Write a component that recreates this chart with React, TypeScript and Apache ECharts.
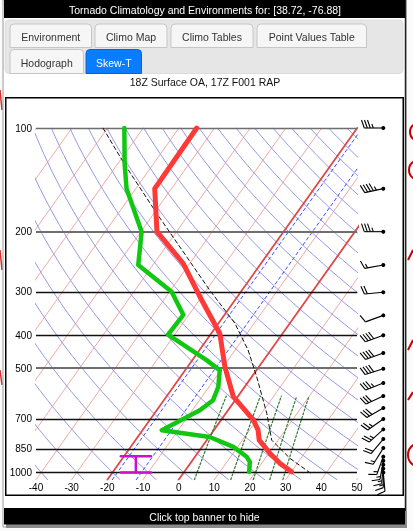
import React, { useEffect, useRef } from "react";
import * as echarts from "echarts";

// ---------- data (pressure hPa, temperature °C) ----------
const tempP = [100, 150, 200, 247, 309, 395, 494, 603, 705, 754, 806, 881, 942, 996];
const tempC = [-65, -64.7, -55.5, -41.9, -30.5, -17.6, -9.5, -1.2, 9.1, 12.4, 14.7, 20.4, 25.2, 30.1];

const dewP = [100, 127, 150, 200, 250, 299, 349, 398, 472, 505, 564, 617, 660, 754, 789, 843, 901, 932, 996];
const dewC = [-85.3, -78.1, -72.6, -59.8, -54.1, -39.4, -31.5, -31.9, -16.0, -10.3, -7.4, -6.2, -7.9, -14.6, 0.2, 8.8, 14.5, 16.4, 18.2];

const parcelP = [100, 127, 177, 296, 369, 442, 528, 674, 806, 911, 1003];
const parcelC = [-91.3, -78.2, -59.2, -29.0, -15.4, -6.3, 1.4, 11.5, 18.2, 27.0, 35.5];

const windP = [100, 150, 200, 250, 300, 350, 400, 450, 500, 550, 600, 650, 700, 750, 800, 850, 900, 925, 950, 975, 1000];
const windDir = [270, 258, 270, 260, 265, 250, 250, 250, 252, 248, 245, 240, 235, 228, 220, 212, 200, 190, 185, 180, 175];
const windKt = [35, 45, 35, 15, 20, 10, 40, 40, 40, 35, 30, 30, 25, 25, 20, 15, 15, 15, 15, 15, 10];

const pressureLevels = [100, 200, 300, 400, 500, 700, 850, 1000];
const tempTicks = [-40, -30, -20, -10, 0, 10, 20, 30, 40, 50];
const isotherms = [-110, -100, -90, -80, -70, -60, -50, -40, -30, -20, -10, 0, 10, 20, 30, 40, 50];
const boldIsotherms = [-20, 0];
const dashedGuides = [-18.6, -11.9];
const thetaC = [-40, -30, -20, -10, 0, 10, 20, 30, 40, 50, 60, 70, 80, 90, 100, 110, 120, 130, 140, 150, 160, 170, 180, 190, 200, 210, 220];
const mixingRatios = [5, 10, 15, 20, 25];
const inflowBase = 1000;
const inflowTop = 897;

// ---------- skew-T transform ----------
const K = 29.8;
const PB = 1050;
const PT = 100;
const sx = (t: number, p: number) => t + K * Math.log(PB / p);
const ly = (p: number) => Math.log(p);

const FONT = "'Liberation Sans', Arial, sans-serif";

function logPs(p0: number, p1: number, n: number) {
  const out: number[] = [];
  for (let i = 0; i <= n; i++) out.push(Math.exp(Math.log(p0) + (Math.log(p1) - Math.log(p0)) * i / n));
  return out;
}

function lineSeries(data: any[], color: string, width: number, type: any = "solid", z = 2) {
  return {
    type: "line",
    xAxisIndex: 0,
    yAxisIndex: 0,
    data,
    showSymbol: false,
    symbol: "none",
    silent: true,
    clip: true,
    z,
    lineStyle: { color, width, type, join: "round", cap: "round" },
  };
}

function buildOption() {
  const series: any[] = [];
  // isotherms
  isotherms.forEach((t) => {
    const bold = boldIsotherms.includes(t);
    series.push(lineSeries([[sx(t, PB), ly(PB)], [sx(t, PT), ly(PT)]], bold ? "#e04848" : "#f2a8a8", bold ? 1.8 : 1, "solid", bold ? 3 : 1));
  });
  // dry adiabats
  thetaC.forEach((th) => {
    const pts = logPs(PB, PT, 40).map((p) => {
      const t = (th + 273.15) * Math.pow(p / 1000, 0.2857) - 273.15;
      return [sx(t, p), ly(p)];
    });
    series.push(lineSeries(pts, "#9898e4", 1, "solid", 1));
  });
  // dashed guides
  dashedGuides.forEach((t) => {
    series.push(lineSeries([[sx(t, PB), ly(PB)], [sx(t, PT), ly(PT)]], "#3a4dff", 1, [3, 3], 3));
  });
  // mixing ratio lines
  mixingRatios.forEach((w) => {
    const pts = logPs(PB, 600, 12).map((p) => {
      const e = (w * p) / (622 + w);
      const l = Math.log(e / 6.112);
      const td = (243.5 * l) / (17.67 - l);
      return [sx(td, p), ly(p)];
    });
    series.push(lineSeries(pts, "#2f7a2f", 1.2, [2, 2], 3));
  });
  // pressure lines + labels
  series.push({
    type: "line",
    data: [],
    silent: true,
    z: 4,
    markLine: {
      silent: true,
      symbol: ["none", "none"],
      animation: false,
      label: {
        show: true,
        position: "start",
        distance: 4,
        formatter: "{b}",
        color: "#000",
        fontSize: 10,
        fontFamily: FONT,
      },
      data: pressureLevels.map((p) => ({
        name: String(p),
        yAxis: ly(p),
        lineStyle: {
          color: p === 200 || p === 500 || p === 100 ? "#6e6e6e" : "#111",
          width: p === 200 || p === 500 ? 2 : 1.3,
          type: "solid",
        },
      })),
    },
  });
  // profiles
  series.push(lineSeries(parcelP.map((p, i) => [sx(parcelC[i], p), ly(p)]), "#111", 1, [4, 3], 6));
  series.push(lineSeries(dewP.map((p, i) => [sx(dewC[i], p), ly(p)]), "#12c712", 4.5, "solid", 7));
  series.push(lineSeries(tempP.map((p, i) => [sx(tempC[i], p), ly(p)]), "#ff3838", 5, "solid", 8));
  // effective inflow I-bar
  const ix = -12, hw = 4.2;
  series.push(lineSeries([[ix - hw, ly(inflowTop)], [ix + hw, ly(inflowTop)]], "#cc10cc", 2.5, "solid", 9));
  series.push(lineSeries([[ix - hw, ly(inflowBase)], [ix + hw, ly(inflowBase)]], "#cc10cc", 2.5, "solid", 9));
  series.push(lineSeries([[ix, ly(inflowTop)], [ix, ly(inflowBase)]], "#cc10cc", 2.5, "solid", 9));

  // wind barbs
  series.push({
    type: "custom",
    xAxisIndex: 1,
    yAxisIndex: 1,
    silent: true,
    clip: false,
    z: 10,
    data: windP.map((p, i) => [26.3, ly(p), windDir[i], windKt[i]]),
    renderItem: (params: any, api: any) => {
      const pt = api.coord([api.value(0), api.value(1)]);
      const dir = (api.value(2) * Math.PI) / 180;
      const spd = api.value(3);
      const ux = Math.sin(dir), uy = -Math.cos(dir);
      const px = -uy, py = ux;
      const L = 19, BL = 8, gap = 3;
      const ex = pt[0] + ux * L, ey = pt[1] + uy * L;
      const st = { stroke: "#000", lineWidth: 1.1 };
      const children: any[] = [
        { type: "line", shape: { x1: pt[0], y1: pt[1], x2: ex, y2: ey }, style: st },
        { type: "circle", shape: { cx: pt[0], cy: pt[1], r: 2 }, style: { fill: "#000" } },
      ];
      let rem = Math.round(spd / 5) * 5;
      let d = 0;
      while (rem >= 50) {
        const bx = ex - ux * d, by = ey - uy * d;
        children.push({
          type: "polygon",
          shape: { points: [[bx, by], [bx + px * BL, by + py * BL], [bx - ux * 4, by - uy * 4]] },
          style: { fill: "#000" },
        });
        rem -= 50;
        d += 5;
      }
      while (rem >= 10) {
        const bx = ex - ux * d, by = ey - uy * d;
        children.push({
          type: "line",
          shape: { x1: bx, y1: by, x2: bx + px * BL + ux * BL * 0.35, y2: by + py * BL + uy * BL * 0.35 },
          style: st,
        });
        rem -= 10;
        d += gap;
      }
      if (rem >= 5) {
        if (d === 0) d = gap;
        const bx = ex - ux * d, by = ey - uy * d;
        children.push({
          type: "line",
          shape: { x1: bx, y1: by, x2: bx + px * BL * 0.5 + ux * BL * 0.18, y2: by + py * BL * 0.5 + uy * BL * 0.18 },
          style: st,
        });
      }
      return { type: "group", children };
    },
  });

  const tab = (x: number, y: number, w: number, h: number, label: string, active = false) => ({
    type: "group",
    z: 0,
    children: [
      {
        type: "rect",
        shape: { x, y, width: w, height: h, r: [4, 4, 0, 0] },
        style: { fill: active ? "#0a7dff" : "#f6f6f6", stroke: active ? "#0a64d6" : "#c6c6c6", lineWidth: 1 },
      },
      {
        type: "text",
        x: x + w / 2,
        y: y + h / 2 + 1,
        style: { text: label, fill: active ? "#fff" : "#333", font: `10.5px ${FONT}`, align: "center", verticalAlign: "middle" },
      },
    ],
  });

  const graphic: any[] = [
    // map strips
    { type: "rect", shape: { x: 0, y: 0, width: 413, height: 531 }, style: { fill: "#fbfbfb" }, z: 0 },
    { type: "circle", shape: { cx: 419, cy: 132, r: 9 }, style: { fill: "none", stroke: "#c40000", lineWidth: 2 }, z: 0 },
    { type: "circle", shape: { cx: 419, cy: 170, r: 10 }, style: { fill: "none", stroke: "#c40000", lineWidth: 2 }, z: 0 },
    { type: "circle", shape: { cx: 420, cy: 455, r: 12 }, style: { fill: "none", stroke: "#c40000", lineWidth: 2 }, z: 0 },
    { type: "line", shape: { x1: 408, y1: 260, x2: 413, y2: 250 }, style: { stroke: "#c40000", lineWidth: 2 }, z: 0 },
    { type: "line", shape: { x1: 408, y1: 350, x2: 413, y2: 340 }, style: { stroke: "#c40000", lineWidth: 2 }, z: 0 },
    { type: "line", shape: { x1: 408, y1: 400, x2: 413, y2: 392 }, style: { stroke: "#c40000", lineWidth: 2 }, z: 0 },
    { type: "line", shape: { x1: 0, y1: 90, x2: 2, y2: 110 }, style: { stroke: "#d03030", lineWidth: 1.5 }, z: 0 },
    { type: "line", shape: { x1: 0, y1: 250, x2: 2, y2: 270 }, style: { stroke: "#d03030", lineWidth: 1.5 }, z: 0 },
    { type: "line", shape: { x1: 0, y1: 370, x2: 2, y2: 385 }, style: { stroke: "#d03030", lineWidth: 1.5 }, z: 0 },
    // panel
    { type: "rect", shape: { x: 3, y: 0, width: 403, height: 527 }, style: { fill: "#ffffff", stroke: "#9a9a9a", lineWidth: 1 }, z: 0 },
    { type: "line", shape: { x1: 405.5, y1: 0, x2: 405.5, y2: 527 }, style: { stroke: "#222", lineWidth: 1.5 }, z: 0 },
    // title bar
    { type: "rect", shape: { x: 4, y: 0, width: 401, height: 18 }, style: { fill: "#000" }, z: 0 },
    {
      type: "text",
      x: 205,
      y: 9.5,
      z: 1,
      style: { text: "Tornado Climatology and Environments for: [38.72, -76.88]", fill: "#fff", font: `10.5px ${FONT}`, align: "center", verticalAlign: "middle" },
    },
    // tab container
    { type: "rect", shape: { x: 5, y: 20, width: 398, height: 53.5, r: 4 }, style: { fill: "#e6e6e6", stroke: "#dcdcdc" }, z: 0 },
    tab(10, 24, 81.5, 23.5, "Environment"),
    tab(95, 24, 72, 23.5, "Climo Map"),
    tab(171, 24, 82, 23.5, "Climo Tables"),
    tab(257, 24, 109.5, 23.5, "Point Values Table"),
    tab(10, 49.5, 73.5, 24, "Hodograph"),
    tab(86, 49.5, 55.5, 24, "Skew-T", true),
    {
      type: "text",
      x: 205,
      y: 81.5,
      z: 1,
      style: { text: "18Z Surface OA, 17Z F001 RAP", fill: "#111", font: `10.5px ${FONT}`, align: "center", verticalAlign: "middle" },
    },
    // chart box
    { type: "rect", shape: { x: 5.75, y: 97.75, width: 397.5, height: 397.5 }, style: { fill: "#fff", stroke: "#000", lineWidth: 1.5 }, z: 0 },
    // bottom bar
    { type: "rect", shape: { x: 6, y: 511, width: 401, height: 17 }, style: { fill: "#8a8a8a" }, z: 0 },
    { type: "rect", shape: { x: 4, y: 508, width: 401, height: 16.5 }, style: { fill: "#000" }, z: 0 },
    {
      type: "text",
      x: 204.5,
      y: 516.5,
      z: 1,
      style: { text: "Click top banner to hide", fill: "#fff", font: `10.5px ${FONT}`, align: "center", verticalAlign: "middle" },
    },
  ];

  return {
    animation: false,
    backgroundColor: "transparent",
    graphic: { elements: graphic },
    grid: [
      { left: 36, top: 128, width: 321, height: 351.7, show: true, borderColor: "#7c7c7c", borderWidth: 2, backgroundColor: "#fff", z: 0 },
      { left: 357, top: 128, width: 56, height: 351.7, show: false },
    ],
    xAxis: [
      {
        type: "value",
        gridIndex: 0,
        min: -40,
        max: 50,
        interval: 10,
        axisLine: { show: false },
        axisTick: { show: false },
        splitLine: { show: false },
        axisLabel: { color: "#000", fontSize: 10, fontFamily: FONT, margin: 3, formatter: (v: number) => (tempTicks.includes(v) ? String(v) : "") },
      },
      { type: "value", gridIndex: 1, min: 0, max: 56, show: false },
    ],
    yAxis: [
      { type: "value", gridIndex: 0, inverse: true, min: ly(PT), max: ly(PB), show: false, splitLine: { show: false } },
      { type: "value", gridIndex: 1, inverse: true, min: ly(PT), max: ly(PB), show: false, splitLine: { show: false } },
    ],
    series,
  };
}

export default function App() {
  const ref = useRef<HTMLDivElement>(null);
  useEffect(() => {
    if (!ref.current) return;
    const chart = echarts.init(ref.current, undefined, { renderer: "svg" });
    chart.setOption(buildOption() as any);
    return () => chart.dispose();
  }, []);
  return <div ref={ref} style={{ position: "fixed", left: 0, top: 0, width: 413, height: 531 }} />;
}
